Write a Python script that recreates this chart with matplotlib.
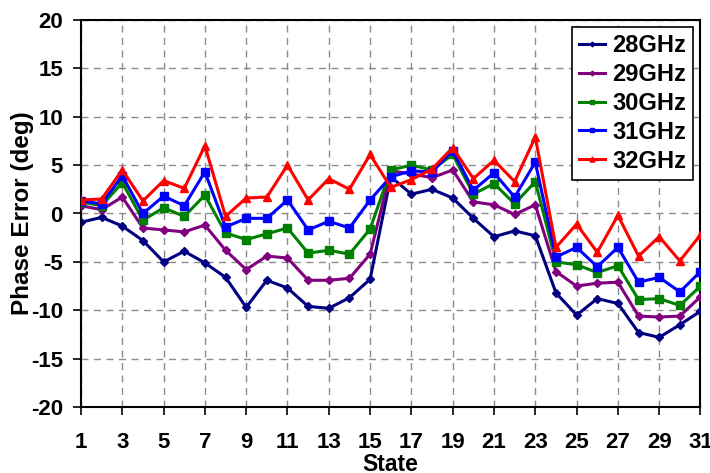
import matplotlib
matplotlib.use("Agg")
import matplotlib.pyplot as plt

plt.rcParams["font.family"] = ["Liberation Sans", "DejaVu Sans"]
plt.rcParams["font.weight"] = "bold"
plt.rcParams["axes.unicode_minus"] = False

# data
states = list(range(1, 32))

ghz28 = [-0.9, -0.4, -1.3, -2.8, -5.0, -3.9, -5.1, -6.6, -9.7, -6.9, -7.7,
         -9.6, -9.8, -8.7, -6.8, 3.8, 2.0, 2.5, 1.6, -0.5, -2.4, -1.8, -2.3,
         -8.2, -10.5, -8.8, -9.3, -12.3, -12.8, -11.5, -10.1]
ghz29 = [0.8, 0.4, 1.7, -1.5, -1.7, -1.9, -1.2, -3.8, -5.8, -4.4, -4.6,
         -6.9, -6.9, -6.7, -4.2, 4.4, 4.1, 3.7, 4.5, 1.2, 0.9, -0.1, 0.9,
         -6.0, -7.5, -7.2, -7.1, -10.6, -10.7, -10.6, -8.6]
ghz30 = [1.2, 0.8, 3.2, -0.7, 0.6, -0.3, 1.9, -2.0, -2.7, -2.1, -1.5,
         -4.1, -3.8, -4.2, -1.6, 4.5, 5.0, 4.5, 6.1, 2.0, 3.1, 1.0, 3.3,
         -5.0, -5.3, -6.1, -5.4, -8.9, -8.8, -9.5, -7.5]
ghz31 = [1.3, 1.0, 3.9, 0.0, 1.8, 0.8, 4.3, -1.4, -0.5, -0.5, 1.4,
         -1.7, -0.8, -1.5, 1.4, 3.8, 4.4, 4.3, 6.5, 2.4, 4.2, 1.7, 5.3,
         -4.5, -3.5, -5.5, -3.5, -7.1, -6.6, -8.1, -6.0]
ghz32 = [1.4, 1.5, 4.5, 1.3, 3.4, 2.6, 7.0, -0.3, 1.6, 1.7, 5.0,
         1.4, 3.6, 2.5, 6.1, 2.7, 3.5, 4.6, 6.8, 3.6, 5.5, 3.3, 7.9,
         -3.5, -1.1, -4.0, -0.2, -4.4, -2.4, -4.9, -2.2]

series = [
    ("28GHz", ghz28, "#000080", "D", 4),
    ("29GHz", ghz29, "#800080", "D", 4),
    ("30GHz", ghz30, "#008000", "s", 5.5),
    ("31GHz", ghz31, "#0000ff", "s", 5.5),
    ("32GHz", ghz32, "#ff0000", "^", 6),
]

fig = plt.figure(figsize=(7.1, 4.73), dpi=100)
ax = fig.add_axes([81 / 710, 66 / 473, 619.5 / 710, 387 / 473])

for name, vals, col, mk, ms in series:
    ax.plot(states, vals, color=col, lw=2.2, marker=mk, ms=ms,
            mec=col, mfc=col, label=name, zorder=3)

ax.set_xlim(1, 31)
ax.set_ylim(-20, 20)
ax.set_xticks(range(1, 32, 2))
ax.set_yticks(range(-20, 21, 5))
ax.grid(True, color="#8c8c8c", ls=(0, (5, 4)), lw=1)

for sp in ax.spines.values():
    sp.set_linewidth(1.5)
    sp.set_color("black")

ax.tick_params(axis="y", direction="out", length=6, width=1.2, pad=7,
               labelsize=16)
ax.tick_params(axis="x", direction="out", length=6, width=1.2, pad=12,
               labelsize=16)

ax.set_ylabel("Phase Error (deg)", fontsize=17.5, fontweight="bold",
              labelpad=-2.5)
ax.set_xlabel("State", fontsize=16.5, fontweight="bold", labelpad=0)

leg = ax.legend(loc="upper right", bbox_to_anchor=(0.988, 0.982),
                borderaxespad=0, fontsize=17, handlelength=1.1,
                handletextpad=0.3, labelspacing=0.25, borderpad=0.3,
                fancybox=False, framealpha=1, edgecolor="black",
                markerscale=0.6)
leg.get_frame().set_linewidth(1.2)

fig.savefig("out.png", dpi=100)
